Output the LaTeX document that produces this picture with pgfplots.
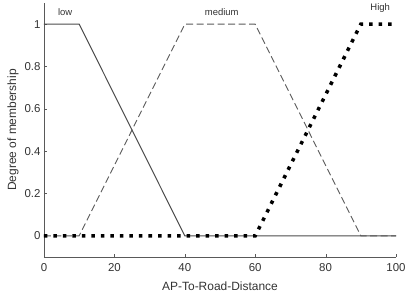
\documentclass[border=0pt]{standalone}
\usepackage{fontspec}
\setmainfont{Liberation Sans}
\usepackage{pgfplots}
\pgfplotsset{compat=1.18}
\begin{document}
\begin{tikzpicture}
\begin{axis}[
  scale only axis,
  width=352bp, height=254bp,
  at={(0,0)}, anchor=south west,
  xmin=0, xmax=100, ymin=-0.1, ymax=1.1,
  axis x line*=bottom, axis y line*=left,
  axis line style={gray!70!black, line width=0.6pt, -},
  xtick={0,20,...,100}, ytick={0,0.2,...,1},
  tick align=inside,
  major tick length=3bp,
  tick style={gray!70!black},
  /pgf/number format/assume math mode=true,
  yticklabel style={/pgf/number format/fixed, /pgf/number format/precision=1},
  ticklabel style={font=\fontsize{11.5}{13}\selectfont, text=black!80},
  xticklabel style={yshift=-3bp},
  xlabel={AP-To-Road-Distance},
  ylabel={Degree of membership},
  label style={font=\fontsize{12}{14}\selectfont, text=black!80},
  xlabel style={yshift=-3bp},
  ylabel style={yshift=-1bp},
  clip=false,
]
\addplot[gray!60!black, line width=1bp] coordinates {(0,1) (10,1) (40,0) (100,0)};
\addplot[gray!70!black, line width=0.9bp, dash pattern=on 7bp off 3.5bp] coordinates {(0,0) (10,0) (40,1) (60,1) (90,0) (100,0)};
\addplot[black, line width=3.5bp, dash pattern=on 3.5bp off 6bp] coordinates {(0,0) (60,0) (90,1) (100,1)};
\node[font=\fontsize{9.5}{11}\selectfont, text=black!80] at (axis cs:6,1.055) {low};
\node[font=\fontsize{9.5}{11}\selectfont, text=black!80] at (axis cs:50.5,1.055) {medium};
\node[font=\fontsize{9.5}{11}\selectfont, text=black!80] at (axis cs:95.5,1.075) {High};
\end{axis}
\pgfresetboundingbox
\path[use as bounding box] (-44bp,-43bp) rectangle (363bp,257bp);
\end{tikzpicture}
\end{document}
